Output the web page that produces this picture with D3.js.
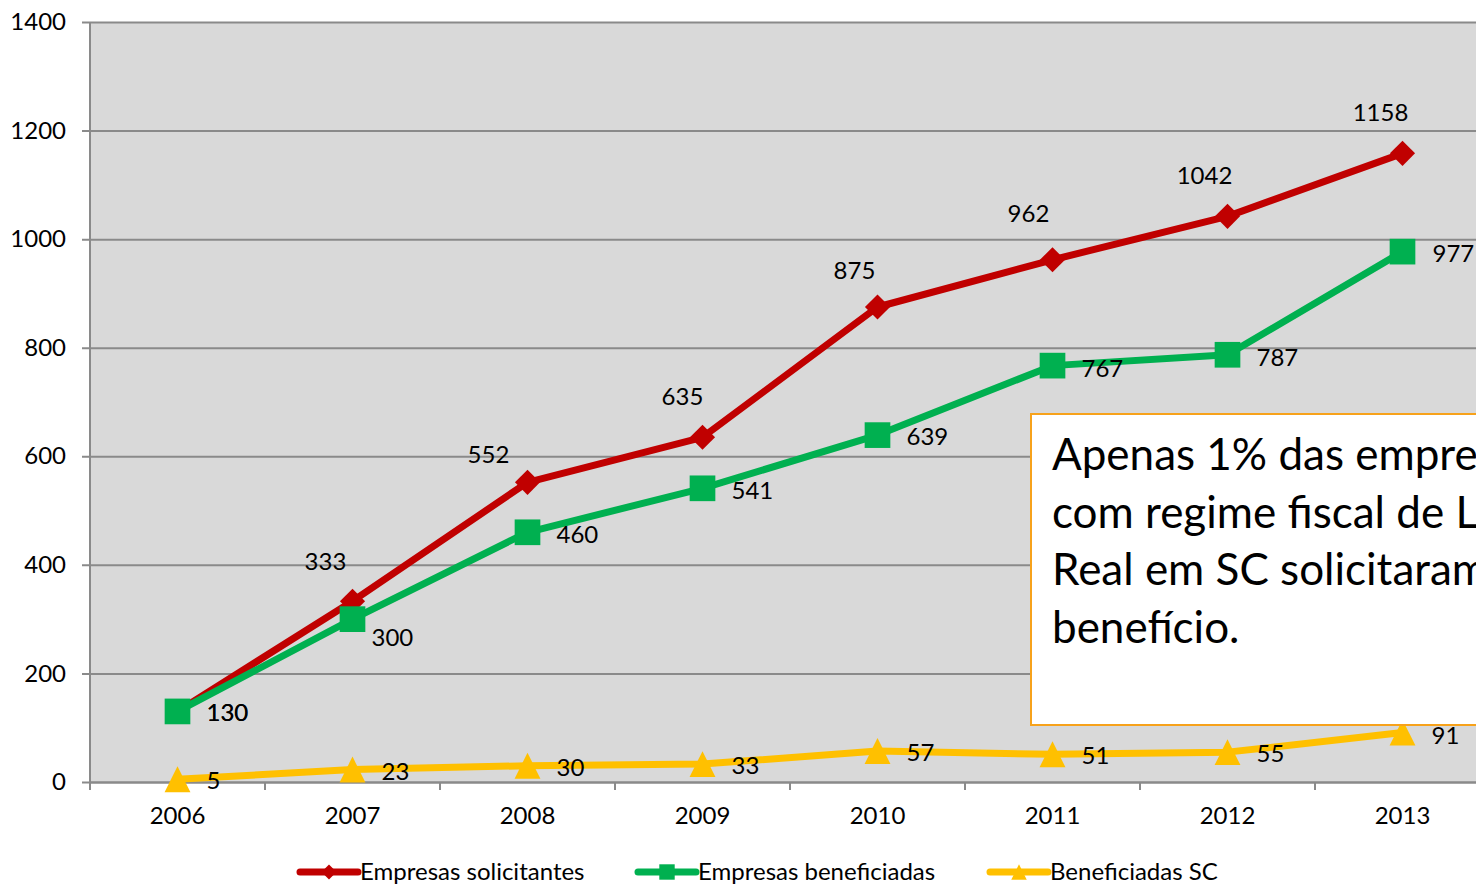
<!DOCTYPE html>
<html>
<head>
<meta charset="utf-8">
<script src="https://cdnjs.cloudflare.com/ajax/libs/d3/7.8.5/d3.min.js"></script>
<style>
  body { margin: 0; background: #fff; overflow: hidden; }
  text { font-family: Lato, "Open Sans", sans-serif; fill: #000; }
</style>
</head>
<body>
<div id="chart"></div>
<script>
const width = 1476,
    height = 885;

// data
const years = ['2006', '2007', '2008', '2009', '2010', '2011', '2012', '2013'];
const solicitantes = [130, 333, 552, 635, 875, 962, 1042, 1158];
const beneficiadas = [130, 300, 460, 541, 639, 767, 787, 977];
const beneficiadasSC = [5, 23, 30, 33, 57, 51, 55, 91];
const yTicks = [0, 200, 400, 600, 800, 1000, 1200, 1400];
const noteLines = ['Apenas 1% das empresas', 'com regime fiscal de Lucro', 'Real em SC solicitaram o', 'benefício.'];

const series = [
    { name: 'Empresas solicitantes', values: solicitantes, color: '#c00000', shape: 'diamond' },
    { name: 'Empresas beneficiadas', values: beneficiadas, color: '#00b050', shape: 'square' },
    { name: 'Beneficiadas SC', values: beneficiadasSC, color: '#ffc000', shape: 'triangle' }
];

// label placement (dx, dy from the point), as the labels were nudged in the original
const labelOffsets = {
    diamond: [[29, 10], [-27, -31], [-39, -19], [-20, -32], [-23, -28], [-24, -38], [-23, -32], [-22, -32]],
    square: [[29, 10], [19, 27], [29, 11], [29, 11], [29, 10], [29, 11], [29, 11], [30, 10]],
    triangle: [[29, 10], [29, 10], [29, 10], [29, 10], [29, 10], [29, 10], [29, 10], [29, 11]]
};

const plot = { left: 90, top: 22, bottom: 782, right: 1490 };

var svg = d3.select('#chart')
    .append('svg')
    .attr('width', width)
    .attr('height', height);

const xScale = d3.scaleBand()
    .domain(years)
    .range([plot.left, plot.right]);
const yScale = d3.scaleLinear()
    .domain([0, 1400])
    .range([plot.bottom, plot.top]);
const xc = (d, i) => xScale(years[i]) + xScale.bandwidth() / 2;

// plot background
svg.append('rect')
    .attr('x', plot.left)
    .attr('y', plot.top)
    .attr('width', plot.right - plot.left)
    .attr('height', plot.bottom - plot.top)
    .attr('fill', '#d9d9d9');

// gridlines + y axis
const yAxis = d3.axisLeft(yScale)
    .tickValues(yTicks)
    .tickFormat(d3.format('d'))
    .tickSize(-(plot.right - plot.left))
    .tickSizeOuter(0);
const yAxisG = svg.append('g')
    .attr('transform', 'translate(' + plot.left + ',0)')
    .call(yAxis);
yAxisG.select('.domain').remove();
yAxisG.selectAll('.tick line')
    .attr('x1', -8)
    .attr('stroke', '#8a8a8a')
    .attr('stroke-width', 2);
yAxisG.selectAll('.tick text')
    .attr('x', -24)
    .style('font-size', '24px')
    .style('font-family', 'Lato, sans-serif')
    .attr('fill', '#000');

// x axis
const xAxis = d3.axisBottom(xScale).tickSize(0).tickPadding(25);
const xAxisG = svg.append('g')
    .attr('transform', 'translate(0,' + plot.bottom + ')')
    .call(xAxis);
xAxisG.select('.domain')
    .attr('stroke', '#8a8a8a')
    .attr('stroke-width', 2);
xAxisG.selectAll('.tick text')
    .style('font-size', '24px')
    .style('font-family', 'Lato, sans-serif')
    .attr('fill', '#000');
// category boundary ticks
xAxisG.selectAll('.bound')
    .data(years.concat(['end']))
    .enter()
    .append('line')
    .attr('x1', (d, i) => plot.left + i * xScale.step())
    .attr('x2', (d, i) => plot.left + i * xScale.step())
    .attr('y1', 0)
    .attr('y2', 8)
    .attr('stroke', '#8a8a8a')
    .attr('stroke-width', 2);

// y axis line
svg.append('line')
    .attr('x1', plot.left).attr('x2', plot.left)
    .attr('y1', plot.top).attr('y2', plot.bottom)
    .attr('stroke', '#8a8a8a')
    .attr('stroke-width', 2);

// excel-like triangle: box centred on the point
const triangleType = {
    draw: (context, size) => {
        const h = Math.sqrt(size);
        context.moveTo(0, -h / 2);
        context.lineTo(h * 0.5, h / 2);
        context.lineTo(-h * 0.5, h / 2);
        context.closePath();
    }
};

const symbolFor = (shape, scale) => {
    if (shape === 'diamond') return d3.symbol(d3.symbolSquare, 315 * scale * scale)();
    if (shape === 'square') return d3.symbol(d3.symbolSquare, 660 * scale * scale)();
    return d3.symbol(triangleType, 670 * scale * scale)();
};

const line = d3.line()
    .x(xc)
    .y((d) => yScale(d));

// lines
series.forEach((s) => {
    svg.append('path')
        .datum(s.values)
        .attr('d', line)
        .attr('fill', 'none')
        .attr('stroke', s.color)
        .attr('stroke-width', 7)
        .attr('stroke-linejoin', 'round');
});

// markers
series.forEach((s) => {
    svg.selectAll('.m-' + s.shape)
        .data(s.values)
        .enter()
        .append('path')
        .attr('class', 'm-' + s.shape)
        .attr('d', symbolFor(s.shape, 1))
        .attr('transform', (d, i) => 'translate(' + xc(d, i) + ',' + yScale(d) + ')' + (s.shape === 'diamond' ? ' rotate(45)' : ''))
        .attr('fill', s.color);
});

// data labels
series.forEach((s) => {
    const off = labelOffsets[s.shape];
    svg.selectAll('.lbl-' + s.shape)
        .data(s.values)
        .enter()
        .append('text')
        .attr('class', 'lbl-' + s.shape)
        .style('font-size', '24px')
        .attr('text-anchor', (d, i) => off[i][0] < 0 ? 'middle' : 'start')
        .attr('x', (d, i) => xc(d, i) + off[i][0])
        .attr('y', (d, i) => yScale(d) + off[i][1])
        .text((d) => d);
});

// note box
const note = svg.append('g');
note.append('rect')
    .attr('x', 1031)
    .attr('y', 414)
    .attr('width', 520)
    .attr('height', 311)
    .attr('fill', '#fff')
    .attr('stroke', '#f7a21b')
    .attr('stroke-width', 2);
note.selectAll('text')
    .data(noteLines)
    .enter()
    .append('text')
    .attr('x', 1052)
    .attr('y', (d, i) => 470 + i * 57.7)
    .style('font-size', '44px')
    .text((d) => d);

// legend
const legendX = [300, 638, 990];
const legend = svg.append('g');
series.forEach((s, i) => {
    const g = legend.append('g').attr('transform', 'translate(' + legendX[i] + ',872)');
    g.append('line')
        .attr('x1', 0).attr('x2', 58)
        .attr('y1', 0).attr('y2', 0)
        .attr('stroke', s.color)
        .attr('stroke-width', 7)
        .attr('stroke-linecap', 'round');
    g.append('path')
        .attr('d', symbolFor(s.shape, 0.6))
        .attr('transform', 'translate(29,0)' + (s.shape === 'diamond' ? ' rotate(45)' : ''))
        .attr('fill', s.color);
    g.append('text')
        .attr('x', 60)
        .attr('y', 8)
        .style('font-size', '24px')
        .text(s.name);
});
</script>
</body>
</html>
